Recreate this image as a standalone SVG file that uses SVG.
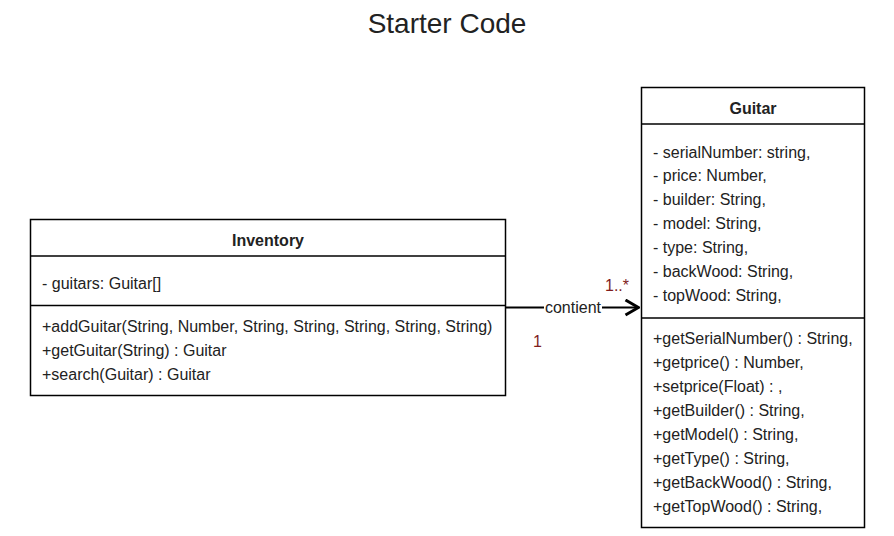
<svg xmlns="http://www.w3.org/2000/svg" width="894" height="536" viewBox="0 0 894 536">
<style>
text{font-family:"Liberation Sans",Arial,sans-serif;fill:#222}
.t{font-size:16px}
.h{font-size:16px;font-weight:bold;text-anchor:middle}
.box{fill:#fff;stroke:#000;stroke-width:1.5}
.sep{stroke:#000;stroke-width:1.5}
.m{fill:#7f1d1d;font-size:16px}
</style>
<defs>
<marker id="arr" viewBox="0 0 16 18" refX="15" refY="9" markerWidth="16" markerHeight="18" markerUnits="userSpaceOnUse" orient="auto">
<path d="M1.5,1.5 L14.5,9 L1.5,16.5" fill="none" stroke="#000" stroke-width="3"/>
</marker>
</defs>
<rect width="894" height="536" fill="#fff"/>
<text x="447" y="33" text-anchor="middle" style="font-size:28px">Starter Code</text>
<g id="inventory">
<rect class="box" x="30.5" y="219.5" width="475" height="176"/>
<line class="sep" x1="30.5" y1="256" x2="505.5" y2="256"/>
<line class="sep" x1="30.5" y1="305.5" x2="505.5" y2="305.5"/>
<text class="h" x="268" y="246">Inventory</text>
<text class="t" x="42" y="289">- guitars: Guitar[]</text>
<text class="t" x="42" y="332">+addGuitar(String, Number, String, String, String, String, String)</text>
<text class="t" x="42" y="356">+getGuitar(String) : Guitar</text>
<text class="t" x="42" y="380">+search(Guitar) : Guitar</text>
</g>
<g id="guitar">
<rect class="box" x="641.5" y="87.5" width="223" height="440"/>
<line class="sep" x1="641.5" y1="124" x2="864.5" y2="124"/>
<line class="sep" x1="641.5" y1="318" x2="864.5" y2="318"/>
<text class="h" x="753" y="114">Guitar</text>
<text class="t" x="653" y="158">- serialNumber: string,</text>
<text class="t" x="653" y="181">- price: Number,</text>
<text class="t" x="653" y="205">- builder: String,</text>
<text class="t" x="653" y="229">- model: String,</text>
<text class="t" x="653" y="253">- type: String,</text>
<text class="t" x="653" y="277">- backWood: String,</text>
<text class="t" x="653" y="301">- topWood: String,</text>
<text class="t" x="653" y="344">+getSerialNumber() : String,</text>
<text class="t" x="653" y="368">+getprice() : Number,</text>
<text class="t" x="653" y="392">+setprice(Float) : ,</text>
<text class="t" x="653" y="416">+getBuilder() : String,</text>
<text class="t" x="653" y="440">+getModel() : String,</text>
<text class="t" x="653" y="464">+getType() : String,</text>
<text class="t" x="653" y="488">+getBackWood() : String,</text>
<text class="t" x="653" y="512">+getTopWood() : String,</text>
</g>
<g id="connectors">
<line x1="505.5" y1="307.5" x2="639" y2="307.5" stroke="#000" stroke-width="2" marker-end="url(#arr)"/>
<rect x="544" y="299" width="58" height="17" fill="#fff"/>
<text class="t" x="573" y="313" text-anchor="middle">contient</text>
<text class="m" x="605" y="291">1..*</text>
<text class="m" x="533" y="347">1</text>
</g>
</svg>
